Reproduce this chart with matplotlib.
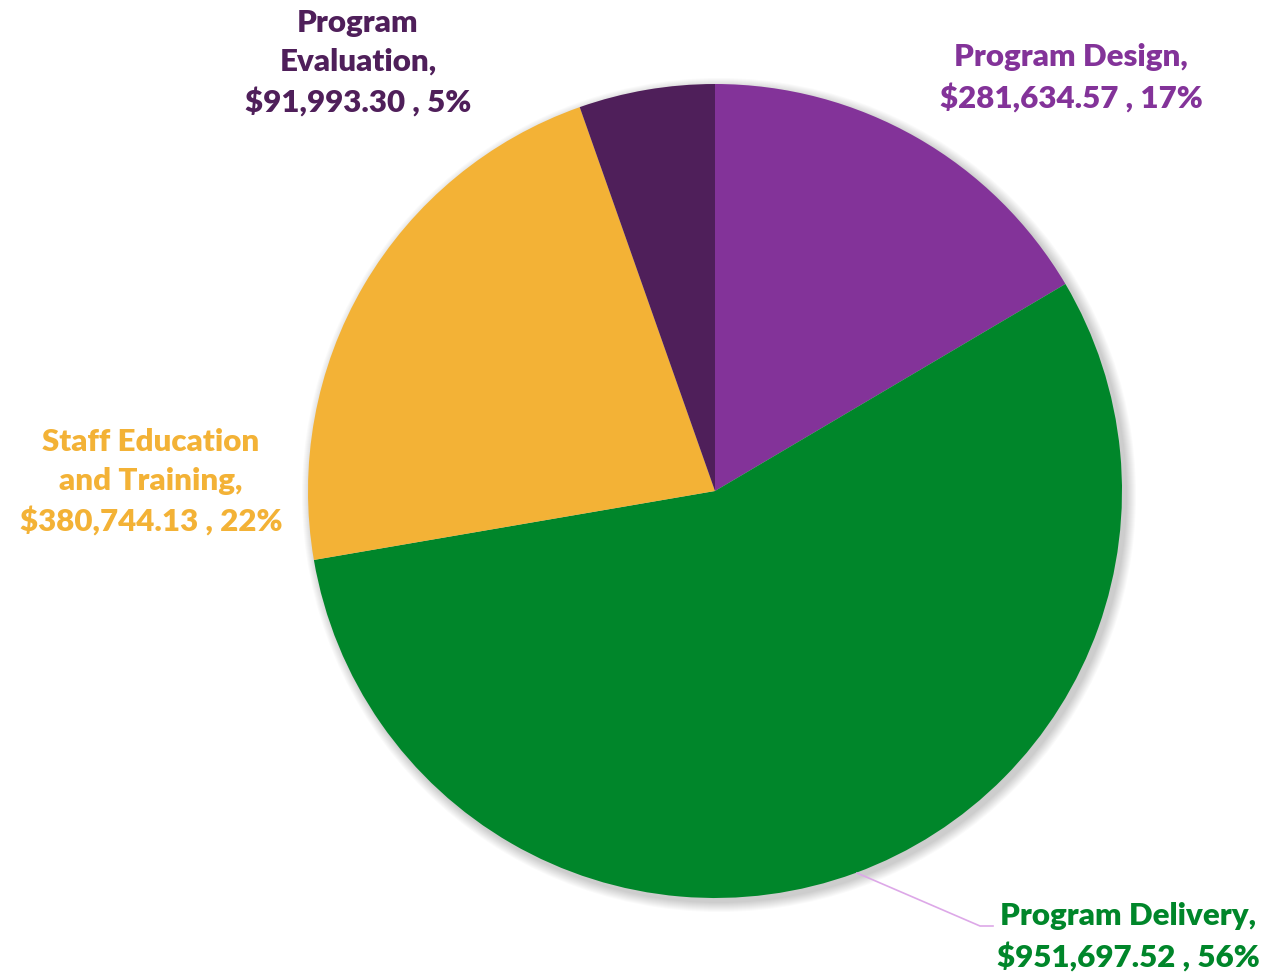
import matplotlib.pyplot as plt
from matplotlib.patches import Circle

categories = ["Program Design", "Program Delivery", "Staff Education\nand Training", "Program\nEvaluation"]
amounts = [281634.57, 951697.52, 380744.13, 91993.30]
colors = ["#833399", "#00862A", "#F3B236", "#4F1F5A"]

W, H = 1287, 976
fig = plt.figure(figsize=(W / 100, H / 100), dpi=100)
ax = fig.add_axes([0, 0, 1, 1])
ax.set_xlim(0, W)
ax.set_ylim(0, H)
ax.set_aspect("equal")
ax.axis("off")

cx, cy, r = 715, H - 491, 407

# soft drop shadow behind the pie
for k in range(10):
    ax.add_patch(Circle((cx + 4, cy - 4), r + 10 - k, color="black",
                        alpha=0.018, lw=0, zorder=0))

ax.pie(amounts, colors=colors, startangle=90, counterclock=False,
       center=(cx, cy), radius=r, frame=True,
       wedgeprops=dict(linewidth=0, zorder=2))
ax.set_xlim(0, W)
ax.set_ylim(0, H)
ax.axis("off")

total = sum(amounts)
label_pos = [(1071, H - 78), (1128, H - 937), (151, H - 482), (358, H - 63)]
for name, v, c, (lx, ly) in zip(categories, amounts, colors, label_pos):
    txt = f"{name},\n${v:,.2f} , {v / total * 100:.0f}%"
    ax.text(lx, ly, txt, color=c, ha="center", va="center", fontsize=22.5,
            fontweight="heavy", family="Lato", linespacing=1.45, zorder=5)

# leader line for the delivery label
ax.plot([857, 980, 993], [H - 873, H - 926, H - 926], color="#DDA8E8", lw=1.2, zorder=3)

fig.savefig("out.png", dpi=100)
